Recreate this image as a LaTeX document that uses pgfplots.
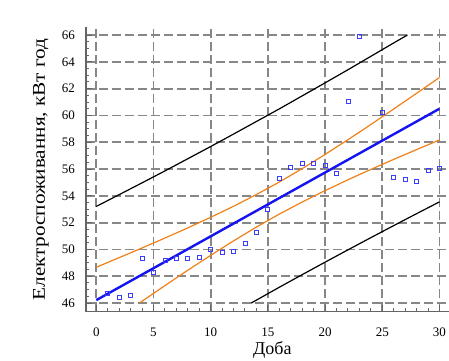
\documentclass[border=0pt]{standalone}
\usepackage{fontspec}
\setmainfont{Liberation Serif}
\usepackage{pgfplots}
\pgfplotsset{compat=1.18}
\definecolor{fitblue}{RGB}{20,20,240}
\definecolor{ciorange}{RGB}{240,128,24}
\definecolor{gridgray}{RGB}{135,135,135}
\definecolor{axgray}{RGB}{100,100,100}
\definecolor{ptblue}{RGB}{60,60,255}
\begin{document}
\begin{tikzpicture}
\begin{axis}[
  name=ax,
  scale only axis,
  width=362.6bp, height=284.5bp,
  xmin=-0.9, xmax=30.8, ymin=45.37, ymax=66.6,
  axis x line*=bottom, axis y line*=left,
  axis line style={-, axgray, line width=1.3bp},
  xtick={0,5,...,30}, ytick={46,48,...,66},
  minor x tick num=4, minor y tick num=3,
  tick align=inside,
  major tick length=6bp, minor tick length=3.5bp,
  tick style={axgray, line width=1bp},
  xmajorgrids=true, ymajorgrids=true,
  major grid style={draw=gridgray, line width=1.8bp, dash pattern=on 9bp off 4bp},
  /pgf/number format/assume math mode=true,
  ticklabel style={font=\fontsize{13bp}{15bp}\selectfont},
  xticklabel style={anchor=base, inner sep=0pt, yshift=-24.5bp},
  yticklabel style={anchor=east, inner sep=0pt, xshift=-11bp},
  xlabel={Доба},
  ylabel={\scalebox{1.18}[1]{Електроспоживання, кВт год}},
  xlabel style={at={(axis description cs:0.514,-0.1494)}, anchor=base, inner sep=0pt, font=\fontsize{18bp}{20bp}\selectfont},
  ylabel style={at={(axis description cs:-0.1131,0.5)}, anchor=base, rotate=0, inner sep=0pt, font=\fontsize{18bp}{20bp}\selectfont},
  clip=true,
]
% prediction limits (black)
\addplot[black, line width=1.2bp] coordinates {
(0,53.21) (2,54.09) (4,54.97) (6,55.86) (8,56.77) (10,57.68) (12,58.61) (14,59.55) (16,60.49) (18,61.46) (20,62.43) (22,63.41) (24,64.41) (26,65.41) (27.2,66.0)};
\addplot[black, line width=1.2bp] coordinates {
(13.54,46.0) (14,46.22) (16,47.18) (18,48.12) (20,49.05) (22,49.97) (24,50.88) (26,51.78) (28,52.67) (30,53.55)};
% confidence limits (orange)
\addplot[ciorange, line width=1.2bp] coordinates {
(0,48.67) (2,49.39) (4,50.11) (6,50.85) (8,51.61) (10,52.40) (12,53.22) (14,54.10) (16,55.03) (18,56.03) (20,57.09) (22,58.19) (24,59.32) (26,60.48) (28,61.65) (30,62.83)};
\addplot[ciorange, line width=1.2bp] coordinates {
(3.76,46.0) (4,46.14) (6,47.30) (8,48.45) (10,49.56) (12,50.64) (14,51.67) (16,52.64) (18,53.54) (20,54.39) (22,55.20) (24,55.97) (26,56.72) (28,57.45) (30,58.17)};
% fitted line
\addplot[fitblue, line width=2.4bp] coordinates {(0,46.22) (30,60.50)};
% observations
\addplot[only marks, mark=square, mark size=2bp, mark options={ptblue, line width=0.8bp}] table {
x y
1 46.75
2 46.42
3 46.57
4 49.33
5 48.28
6 49.18
7 49.36
8 49.33
9 49.38
10 49.98
11 49.75
12 49.83
13 50.45
14 51.27
15 52.96
16 55.30
17 56.15
18 56.45
19 56.42
20 56.30
21 55.67
22 61.05
23 65.90
25 60.25
26 55.35
27 55.20
28 55.08
29 55.87
30 56.05
};
\node[anchor=base west, inner sep=0pt, font=\fontsize{12.5bp}{14bp}\selectfont] at (axis description cs:-0.2143,1.0186) {( x 1000,0)};
\end{axis}
\pgfresetboundingbox
\path[use as bounding box] ([xshift=-86bp,yshift=-49.5bp]ax.south west) rectangle ([xshift=0.4bp,yshift=27bp]ax.north east);
\end{tikzpicture}
\end{document}
